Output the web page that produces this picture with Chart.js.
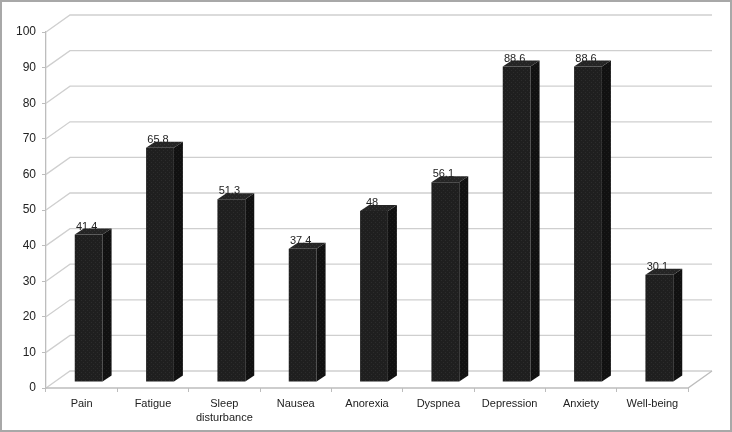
<!DOCTYPE html>
<html>
<head>
<meta charset="utf-8">
<script src="https://cdn.jsdelivr.net/npm/chart.js@4"></script>
<style>
  body { margin: 0; background: #fff; }
  #chart { display: block; }
</style>
</head>
<body>
<canvas id="chart" width="732" height="432"></canvas>
<script>
const categories = ['Pain', 'Fatigue', ['Sleep', 'disturbance'], 'Nausea', 'Anorexia', 'Dyspnea', 'Depression', 'Anxiety', 'Well-being'];
const values = [41.4, 65.8, 51.3, 37.4, 48, 56.1, 88.6, 88.6, 30.1];
const valueLabels = ['41.4', '65.8', '51.3', '37.4', '48', '56.1', '88.6', '88.6', '30.1'];

// depth of the 3D box: whole floor and bar offset
const DEPTH_X = 24, DEPTH_Y = -17;
const BAR_SHIFT_X = 7, BAR_SHIFT_Y = -6;
const BAR_DX = 9, BAR_DY = -6;

// small dark texture for the bar faces
function makePattern(base, dot) {
  const c = document.createElement('canvas');
  c.width = 4; c.height = 4;
  const g = c.getContext('2d');
  g.fillStyle = base;
  g.fillRect(0, 0, 4, 4);
  g.fillStyle = dot;
  g.fillRect(0, 0, 1, 1);
  g.fillRect(2, 2, 1, 1);
  return g.createPattern(c, 'repeat');
}
const ctx = document.getElementById('chart').getContext('2d');
const frontFill = makePattern('#1f1f1f', '#2c2c2c');
const sideFill = makePattern('#111111', '#1c1c1c');
const topFill = makePattern('#252525', '#333333');

const wallPlugin = {
  id: 'wall',
  beforeDatasetsDraw(chart) {
    const { ctx, chartArea } = chart;
    const y = chart.scales.y;
    ctx.save();
    ctx.strokeStyle = '#cfcfcf';
    ctx.lineWidth = 1.3;
    y.ticks.forEach((t) => {
      const py = y.getPixelForValue(t.value);
      ctx.beginPath();
      ctx.moveTo(chartArea.left, py);
      ctx.lineTo(chartArea.left + DEPTH_X, py + DEPTH_Y);
      ctx.lineTo(chartArea.right + DEPTH_X, py + DEPTH_Y);
      ctx.stroke();
    });
    // floor front edge and right side
    ctx.strokeStyle = '#bdbdbd';
    ctx.beginPath();
    ctx.moveTo(chartArea.left, chartArea.bottom);
    ctx.lineTo(chartArea.right, chartArea.bottom);
    ctx.lineTo(chartArea.right + DEPTH_X, chartArea.bottom + DEPTH_Y);
    ctx.stroke();
    ctx.restore();
    // bars sit partway into the depth
    ctx.save();
    ctx.translate(BAR_SHIFT_X, BAR_SHIFT_Y);
  },
  afterDatasetsDraw(chart) {
    const { ctx } = chart;
    ctx.restore();
    const meta = chart.getDatasetMeta(0);
    ctx.save();
    meta.data.forEach((bar, i) => {
      const p = bar.getProps(['x', 'y', 'base', 'width'], true);
      const L = p.x - p.width / 2 + BAR_SHIFT_X;
      const R = p.x + p.width / 2 + BAR_SHIFT_X;
      const top = p.y + BAR_SHIFT_Y;
      const bottom = p.base + BAR_SHIFT_Y;
      // side face
      ctx.fillStyle = sideFill;
      ctx.beginPath();
      ctx.moveTo(R, top);
      ctx.lineTo(R + BAR_DX, top + BAR_DY);
      ctx.lineTo(R + BAR_DX, bottom + BAR_DY);
      ctx.lineTo(R, bottom);
      ctx.closePath();
      ctx.fill();
      // top face
      ctx.fillStyle = topFill;
      ctx.beginPath();
      ctx.moveTo(L, top);
      ctx.lineTo(L + BAR_DX, top + BAR_DY);
      ctx.lineTo(R + BAR_DX, top + BAR_DY);
      ctx.lineTo(R, top);
      ctx.closePath();
      ctx.fill();
      // value label
      ctx.fillStyle = '#222';
      ctx.font = '11px "Liberation Sans", Arial, sans-serif';
      ctx.textAlign = 'center';
      ctx.textBaseline = 'alphabetic';
      ctx.fillText(valueLabels[i], (L + R) / 2 - 2, top + BAR_DY + 1);
    });
    ctx.restore();
  },
  afterDraw(chart) {
    const { ctx } = chart;
    ctx.save();
    ctx.strokeStyle = '#a8a8a8';
    ctx.lineWidth = 2;
    ctx.strokeRect(1, 1, chart.width - 2, chart.height - 2);
    ctx.restore();
  }
};

new Chart(ctx, {
  type: 'bar',
  data: {
    labels: categories,
    datasets: [{
      data: values,
      backgroundColor: frontFill,
      borderWidth: 0,
      barPercentage: 0.39,
      categoryPercentage: 1
    }]
  },
  options: {
    responsive: false,
    animation: false,
    layout: { padding: { top: 32, left: 0, right: 44, bottom: 0 } },
    plugins: {
      legend: { display: false },
      tooltip: { enabled: false }
    },
    scales: {
      x: {
        afterFit: (s) => { s.height = 44; },
        grid: { drawOnChartArea: false, drawTicks: true, tickLength: 4, color: '#bdbdbd' },
        border: { display: false },
        ticks: {
          color: '#222',
          padding: 5,
          maxRotation: 0,
          autoSkip: false,
          font: { family: '"Liberation Sans", Arial, sans-serif', size: 11, lineHeight: 1.25 }
        }
      },
      y: {
        min: 0,
        max: 100,
        afterFit: (s) => { s.width = 46; },
        grid: { drawOnChartArea: false, drawTicks: true, tickLength: 4, color: '#bdbdbd' },
        border: { display: true, color: '#bdbdbd', width: 1.3 },
        ticks: {
          stepSize: 10,
          color: '#222',
          padding: 6,
          font: { family: '"Liberation Sans", Arial, sans-serif', size: 12 }
        }
      }
    }
  },
  plugins: [wallPlugin]
});
</script>
</body>
</html>
